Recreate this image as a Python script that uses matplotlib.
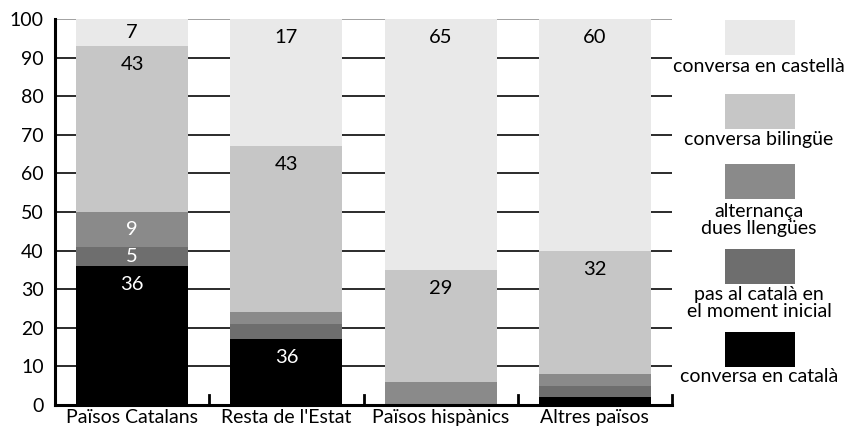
import matplotlib
matplotlib.use("Agg")
import matplotlib.pyplot as plt
from matplotlib.patches import Rectangle
import numpy as np

plt.rcParams['font.family'] = ['Lato', 'DejaVu Sans']

categories = ["Països Catalans", "Resta de l'Estat", "Països hispànics", "Altres països"]
series_names = ["conversa en català", "pas al català en\nel moment inicial",
                "alternança\ndues llengües", "conversa bilingüe", "conversa en castellà"]
catala     = [36, 17, 0, 2]
pas        = [5, 4, 0, 3]
alternanca = [9, 3, 6, 3]
bilingue   = [43, 43, 29, 32]
castella   = [7, 33, 65, 60]
series = [catala, pas, alternanca, bilingue, castella]
colors = ["#000000", "#6e6e6e", "#8a8a8a", "#c6c6c6", "#e9e9e9"]
text_colors = ["white", "white", "white", "black", "black"]
# labels as printed in the reference (None = no label)
labels = [
    ["36", "36", None, None],
    ["5", None, None, None],
    ["9", None, None, None],
    ["43", "43", "29", "32"],
    ["7", "17", "65", "60"],
]
yticks = list(range(0, 101, 10))

fig = plt.figure(figsize=(8.49, 4.30), dpi=100)
ax = fig.add_axes([55/849, 1-405/430, 617/849, 386/430])

x = np.arange(len(categories))
bottom = np.zeros(len(categories))
for vals, col, tcol, labs in zip(series, colors, text_colors, labels):
    vals = np.array(vals, dtype=float)
    ax.bar(x, vals, bottom=bottom, width=0.725, color=col, zorder=2, linewidth=0)
    tops = bottom + vals
    for i, lab in enumerate(labs):
        if lab is not None:
            off = min(4.8, vals[i] / 2)
            ax.text(x[i], tops[i] - off, lab, ha='center', va='center',
                    color=tcol, fontsize=14.5, zorder=3)
    bottom = tops

for yv in yticks[1:]:
    ax.axhline(yv, color='#9a9a9a' if yv == 100 else '#1a1a1a', lw=1.3, zorder=1)

ax.set_xlim(-0.5, len(categories) - 0.5)
ax.set_ylim(0, 100)
ax.set_yticks(yticks)
ax.set_yticklabels([str(v) for v in yticks], fontsize=14)
ax.tick_params(axis='y', length=0, pad=8)
ax.set_xticks(x)
ax.set_xticklabels(categories, fontsize=14)
ax.tick_params(axis='x', length=0, pad=3)
# boundary tick marks
for b in np.arange(0.5, len(categories), 1.0):
    ax.plot([b, b], [0, 2.6], color='black', lw=2, zorder=4, clip_on=False)

for s in ['top', 'right']:
    ax.spines[s].set_visible(False)
ax.spines['left'].set_linewidth(2.2)
ax.spines['bottom'].set_linewidth(2.2)
ax.spines['left'].set_zorder(5)
ax.spines['bottom'].set_zorder(5)

# legend drawn manually on the right
W, H = 849, 430
patch_tops = [332, 249, 164, 94, 20]
text_y = [376, 303, 220, 140, 67]
for name, col, pt, ty in zip(series_names, colors, patch_tops, text_y):
    fig.patches.append(Rectangle((725/W, 1-(pt+35)/H), 70/W, 35/H,
                                 transform=fig.transFigure, color=col, lw=0))
    fig.text(759/W, 1-ty/H, name, ha='center', va='center', fontsize=14,
             linespacing=1.0)

fig.savefig("out.png", dpi=100)
